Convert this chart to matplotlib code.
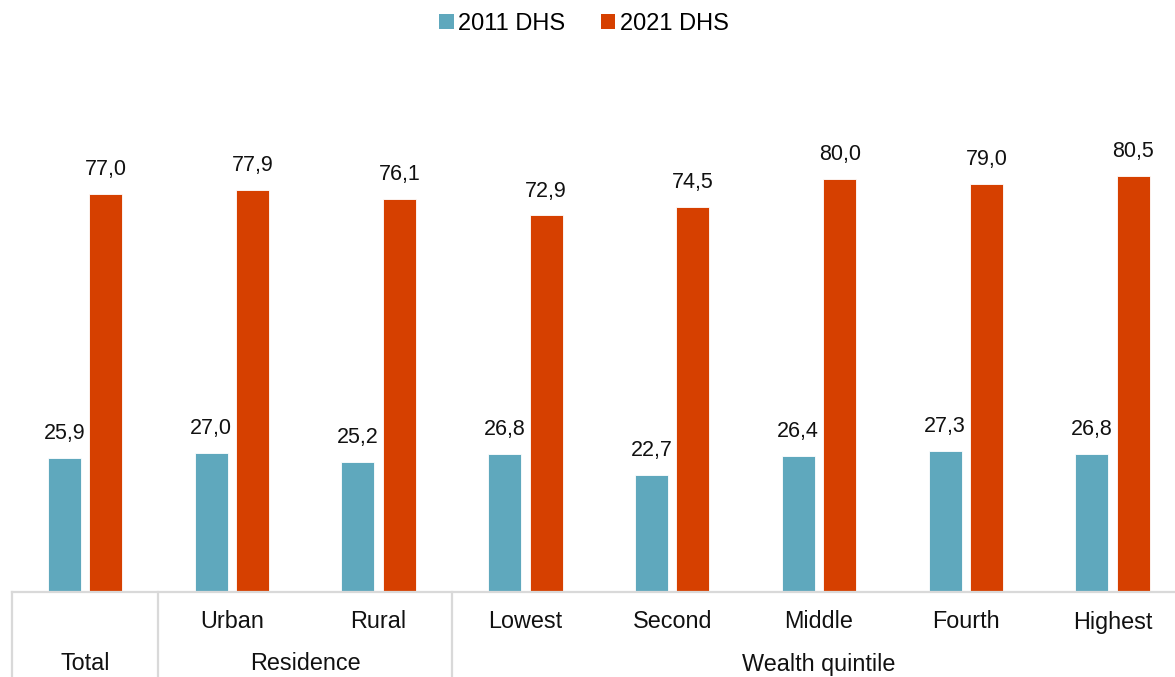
import matplotlib
matplotlib.use("Agg")
import matplotlib.pyplot as plt
import matplotlib.transforms as mtransforms
from matplotlib.patches import Patch

plt.rcParams['font.family'] = ['Liberation Sans', 'DejaVu Sans']

categories = ["Total", "Urban", "Rural", "Lowest", "Second", "Middle", "Fourth", "Highest"]
groups = [("Total", 0, 0), ("Residence", 1, 2), ("Wealth quintile", 3, 7)]
series_names = ["2011 DHS", "2021 DHS"]
values_2011 = [25.9, 27.0, 25.2, 26.8, 22.7, 26.4, 27.3, 26.8]
values_2021 = [77.0, 77.9, 76.1, 72.9, 74.5, 80.0, 79.0, 80.5]

c2011 = "#5fa8bd"
c2021 = "#d64000"
grid_c = "#d9d9d9"

W, H = 1175, 677
fig = plt.figure(figsize=(W / 100, H / 100), dpi=100)
ax_left, ax_right = 11.6, 1186.0
ax_top, ax_bottom = 100.0, 592.0
ax = fig.add_axes([ax_left / W, (H - ax_bottom) / H, (ax_right - ax_left) / W, (ax_bottom - ax_top) / H])

px_per_unit = 5.165
ax.set_ylim(0, (ax_bottom - ax_top) / px_per_unit)
ax.set_xlim(-0.5, len(categories) - 0.5)

x = list(range(len(categories)))
bw = 0.225
off = 0.141
b1 = ax.bar([i - off for i in x], values_2011, width=bw, color=c2011, edgecolor="white", linewidth=0.6, label=series_names[0])
b2 = ax.bar([i + off for i in x], values_2021, width=bw, color=c2021, edgecolor="white", linewidth=0.6, label=series_names[1])

fmt = lambda v: f"{v:.1f}".replace(".", ",")
for bars, vals in ((b1, values_2011), (b2, values_2021)):
    ax.bar_label(bars, labels=[fmt(v) for v in vals], padding=10, fontsize=15.5, color="#111111")

for s in ax.spines.values():
    s.set_visible(False)
ax.set_xticks([])
ax.set_yticks([])

trans = mtransforms.blended_transform_factory(ax.transData, ax.transAxes)
ybot = -(H - ax_bottom) / (ax_bottom - ax_top)
ax.plot([-0.5, len(categories) - 0.5], [0, 0], transform=trans, color=grid_c, lw=1.6, clip_on=False)
for sep in (-0.5, 0.5, 2.5, 7.5):
    ax.plot([sep, sep], [0, ybot], transform=trans, color=grid_c, lw=1.6, clip_on=False)

sub_y = -(622 - ax_bottom) / (ax_bottom - ax_top)
grp_y = -(664 - ax_bottom) / (ax_bottom - ax_top)
for i, c in enumerate(categories):
    if c == "Total":
        continue
    ax.text(i, sub_y, c, transform=trans, ha="center", va="center", fontsize=16.8, color="#111111")
for name, a, b in groups:
    ax.text((a + b) / 2, grp_y, name, transform=trans, ha="center", va="center", fontsize=16.8, color="#111111")

handles = [Patch(facecolor=c2011, edgecolor="none"), Patch(facecolor=c2021, edgecolor="none")]
fig.legend(handles, series_names, loc="upper center", bbox_to_anchor=(0.497, 1.012), ncol=2, frameon=False,
           fontsize=17, handlelength=0.6, handleheight=0.6, handletextpad=0.2, columnspacing=1.5)

fig.savefig("out.png", dpi=100)
